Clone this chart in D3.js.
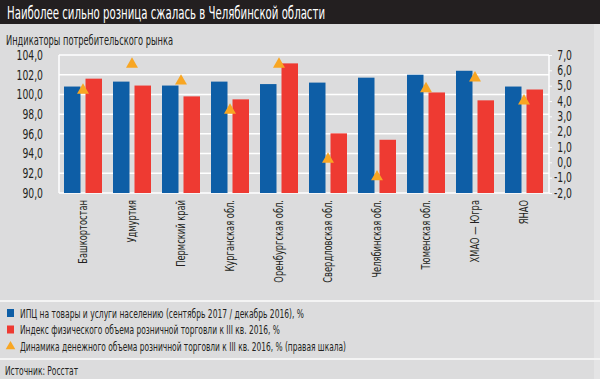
<!DOCTYPE html>
<html><head><meta charset="utf-8">
<script src="https://cdn.jsdelivr.net/npm/d3@7/dist/d3.min.js"></script>
<style>
html,body{margin:0;padding:0;background:#fff;}
svg{display:block;}
text{font-family:"Liberation Sans Narrow","DejaVu Sans Condensed","Roboto Condensed",sans-serif;}
</style></head>
<body><svg id="c" width="600" height="379"></svg>
<script>
const categories = ["Башкортостан","Удмуртия","Пермский край","Курганская обл.","Оренбургская обл.","Свердловская обл.","Челябинская обл.","Тюменская обл.","ХМАО — Югра","ЯНАО"];
const cpi = [100.8, 101.3, 100.9, 101.3, 101.05, 101.2, 101.7, 102.0, 102.4, 100.8];
const retailPhysical = [101.6, 100.9, 99.8, 99.5, 103.15, 96.05, 95.4, 100.2, 99.4, 100.5];
const retailMoney = [4.7, 6.4, 5.3, 3.4, 6.4, 0.2, -0.95, 4.8, 5.5, 4.0];
const leftTicks = [90,92,94,96,98,100,102,104];
const rightTicks = [-2,-1,0,1,2,3,4,5,6,7];
const legendLabels = ["ИПЦ на товары и услуги населению (сентябрь 2017 / декабрь 2016), %","Индекс физического объема розничной торговли к III кв. 2016, %","Динамика денежного объема розничной торговли к III кв. 2016, % (правая шкала)"];
const titleText = "Наиболее сильно розница сжалась в Челябинской области";
const subtitleText = "Индикаторы потребительского рынка";
const sourceText = "Источник: Росстат";

const BLUE="#0e5ea6", RED="#ee3a32", ORANGE="#f8a623", BG="#dcdcdd", INK="#231f20";
const svg = d3.select("#c");
const fmt = v => d3.format(".1f")(v).replace(".", ",").replace("−","-");
function fitTo(sel, w){ sel.attr("textLength", w).attr("lengthAdjust","spacingAndGlyphs"); }
function squeeze(sel, f){ sel.each(function(){ const w=this.getComputedTextLength(); this.setAttribute("textLength", w*f); this.setAttribute("lengthAdjust","spacingAndGlyphs"); }); }

svg.append("rect").attr("width",600).attr("height",379).attr("fill",BG);
svg.append("rect").attr("x",594).attr("width",6).attr("height",379).attr("fill","#e4e4e5");
svg.append("rect").attr("width",600).attr("height",24).attr("fill",INK);
fitTo(svg.append("text").attr("x",7).attr("y",18.5).attr("fill","#fff").attr("font-size",17).text(titleText), 318);
fitTo(svg.append("text").attr("x",6).attr("y",44.5).attr("fill",INK).attr("font-size",13.5).text(subtitleText), 167);

const L=59, R=549, T=55, B=193;
const x = d3.scaleBand().domain(categories).range([58.5,548.5]);
const yL = d3.scaleLinear().domain([90,104]).range([B, 55]);
const yR = d3.scaleLinear().domain([-2,7]).range([B, 55]);

// gridlines
svg.append("g").selectAll("line").data(leftTicks).join("line")
  .attr("x1",L).attr("x2",R).attr("y1",d=>yL(d)).attr("y2",d=>yL(d))
  .attr("stroke","#fff").attr("stroke-width",1.5);
svg.append("line").attr("x1",L).attr("x2",L).attr("y1",T).attr("y2",B).attr("stroke","#fff").attr("stroke-width",1.5);
svg.append("line").attr("x1",R).attr("x2",R).attr("y1",T).attr("y2",B).attr("stroke","#fff").attr("stroke-width",1.5);

// bars
const bw = 16.5;
svg.append("g").selectAll("rect").data(categories).join("rect")
  .attr("x",d=>x(d)+x.bandwidth()/2-19).attr("width",bw)
  .attr("y",(d,i)=>yL(cpi[i])).attr("height",(d,i)=>yL(90)-yL(cpi[i]))
  .attr("fill",BLUE);
svg.append("g").selectAll("rect").data(categories).join("rect")
  .attr("x",d=>x(d)+x.bandwidth()/2+2.5).attr("width",bw)
  .attr("y",(d,i)=>yL(retailPhysical[i])).attr("height",(d,i)=>yL(90)-yL(retailPhysical[i]))
  .attr("fill",RED);
// triangles
const tri = d3.symbol().type(d3.symbolTriangle).size(62);
svg.append("g").selectAll("path").data(categories).join("path")
  .attr("d",tri)
  .attr("transform",(d,i)=>`translate(${x(d)+x.bandwidth()/2},${yR(retailMoney[i])})`)
  .attr("fill",ORANGE);

// left axis
const gl = svg.append("g").attr("transform",`translate(${L},0)`)
  .call(d3.axisLeft(yL).tickValues(leftTicks).tickFormat(fmt).tickSize(0).tickPadding(16));
gl.select(".domain").remove();
gl.selectAll("text").attr("font-size",13.5).attr("fill",INK);
squeeze(gl.selectAll("text"), 0.76);
// right axis
const gr = svg.append("g").attr("transform",`translate(${R},0)`)
  .call(d3.axisRight(yR).tickValues(rightTicks).tickFormat(fmt).tickSize(3).tickPadding(3));
gr.select(".domain").remove();
gr.selectAll("line").attr("stroke","#fff");
gr.selectAll("text").attr("font-size",13.5).attr("fill",INK);
squeeze(gr.selectAll("text"), 0.76);
gr.selectAll("text").each(function(){ const w=+this.getAttribute("textLength"); this.setAttribute("x", 23 - w); });
// bottom axis
const gb = svg.append("g").attr("transform",`translate(0,${B})`)
  .call(d3.axisBottom(x).tickSize(0).tickPadding(0));
gb.select(".domain").remove();
gb.selectAll("text").attr("font-size",12.5).attr("fill",INK)
  .attr("text-anchor","end").attr("dy","0.35em")
  .attr("transform","translate(0,7) rotate(-90)");
squeeze(gb.selectAll("text"), 0.74);

// separators
svg.append("line").attr("x1",0).attr("x2",600).attr("y1",301).attr("y2",301).attr("stroke","#f4f4f4").attr("stroke-width",2);
svg.append("line").attr("x1",0).attr("x2",600).attr("y1",359).attr("y2",359).attr("stroke","#f4f4f4").attr("stroke-width",2);

// legend
const colors=[BLUE,RED,ORANGE];
const legendW=[284,260,326];
const lg = svg.append("g");
legendLabels.forEach((t,i)=>{
  const cy = 313 + i*16.5;
  if(i<2) lg.append("rect").attr("x",7).attr("y",cy-4).attr("width",7).attr("height",8).attr("fill",colors[i]);
  else lg.append("path").attr("d",d3.symbol().type(d3.symbolTriangle).size(40)).attr("transform",`translate(10.5,${cy+0.5})`).attr("fill",ORANGE);
  fitTo(lg.append("text").attr("x",20).attr("y",cy).attr("dy","0.35em").attr("font-size",13).attr("fill",INK).text(t), legendW[i]);
});
fitTo(svg.append("text").attr("x",5).attr("y",370).attr("dy","0.35em").attr("font-size",13).attr("fill",INK).text(sourceText), 73);
</script></body></html>
